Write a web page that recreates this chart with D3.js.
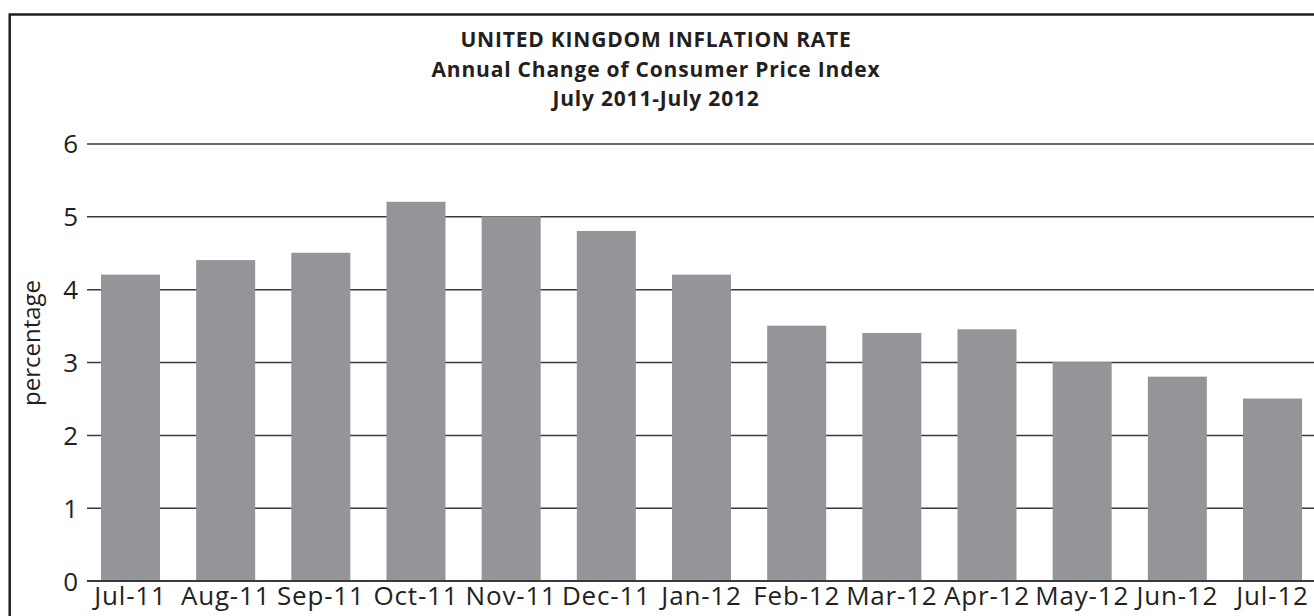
<!DOCTYPE html>
<html>
<head>
<meta charset="utf-8">
<script src="https://cdnjs.cloudflare.com/ajax/libs/d3/7.8.5/d3.min.js"></script>
<style>
  body { margin: 0; background: #fff; }
  svg text { fill: #231f20; }
</style>
</head>
<body>
<svg></svg>
<script>
  // values
  let months = ["Jul-11","Aug-11","Sep-11","Oct-11","Nov-11","Dec-11","Jan-12",
                "Feb-12","Mar-12","Apr-12","May-12","Jun-12","Jul-12"];
  let rates = [4.2, 4.4, 4.5, 5.2, 5.0, 4.8, 4.2, 3.5, 3.4, 3.45, 3.0, 2.8, 2.5];
  let yTicks = [0, 1, 2, 3, 4, 5, 6];
  let titleLines = ["UNITED KINGDOM INFLATION RATE",
                    "Annual Change of Consumer Price Index",
                    "July 2011-July 2012"];
  let yLabel = "percentage";

  let width = 1314, height = 616;
  let plot = {left: 87, right: 1316, top: 143.5, bottom: 580.7};
  let font = "'Open Sans', sans-serif";

  let svg = d3.select("svg").attr("width", width).attr("height", height);

  // frame (runs off the right and bottom edges like the scan)
  svg.append("rect")
    .attr("x", 9.7).attr("y", 14.5)
    .attr("width", width).attr("height", height)
    .attr("fill", "none").attr("stroke", "#231f20").attr("stroke-width", 2.5);

  let scales = {
    x: d3.scaleBand().domain(months).range([plot.left, plot.right])
         .paddingInner(0.38).paddingOuter(0.147),
    y: d3.scaleLinear().domain([0, 6]).range([plot.bottom, plot.top])
  };

  // gridlines + y tick labels
  let yAxis = svg.append("g")
    .attr("transform", "translate(" + plot.left + ",0)")
    .call(d3.axisLeft(scales.y).tickValues(yTicks).tickFormat(d3.format("d"))
      .tickSize(-(width - plot.left)).tickPadding(9));
  yAxis.select(".domain").remove();
  yAxis.selectAll("line").attr("stroke", "#3a3a3a").attr("stroke-width", 1.5);
  yAxis.selectAll("text").attr("font-family", font).attr("font-size", 26)
    .attr("fill", "#231f20").attr("dy", "0.36em");

  // bars
  svg.append("g").selectAll("rect")
    .data(months)
    .enter()
    .append("rect")
    .attr("x", d => scales.x(d))
    .attr("width", scales.x.bandwidth())
    .attr("y", (d, i) => scales.y(rates[i]))
    .attr("height", (d, i) => scales.y(0) - scales.y(rates[i]))
    .attr("fill", "#939598");

  // baseline drawn again over bars
  svg.append("line")
    .attr("x1", plot.left).attr("x2", width)
    .attr("y1", scales.y(0)).attr("y2", scales.y(0))
    .attr("stroke", "#3a3a3a").attr("stroke-width", 1.5);

  // x labels
  let xAxis = svg.append("g")
    .attr("transform", "translate(0," + plot.bottom + ")")
    .call(d3.axisBottom(scales.x).tickSize(0).tickPadding(6));
  xAxis.select(".domain").remove();
  xAxis.selectAll("text").attr("font-family", font).attr("font-size", 26)
    .attr("letter-spacing", 0.8).attr("fill", "#231f20");

  // y label
  svg.append("text")
    .attr("transform", "translate(40,343) rotate(-90)")
    .attr("text-anchor", "middle")
    .attr("font-family", font).attr("font-size", 24)
    .text(yLabel);

  // title
  svg.append("g").selectAll("text")
    .data(titleLines)
    .enter()
    .append("text")
    .attr("x", 656)
    .attr("y", (d, i) => 47 + i * 29.5)
    .attr("text-anchor", "middle")
    .attr("font-family", font).attr("font-weight", "bold").attr("font-size", 21)
    .attr("letter-spacing", 0.8)
    .text(d => d);
</script>
</body>
</html>
